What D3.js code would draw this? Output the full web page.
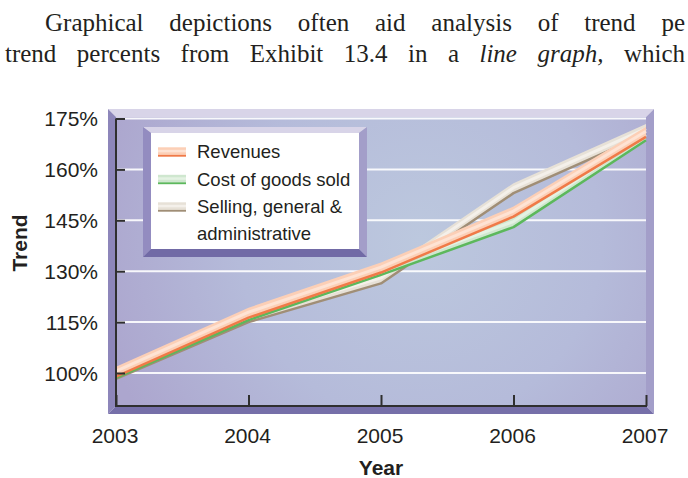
<!DOCTYPE html>
<html>
<head>
<meta charset="utf-8">
<script src="https://cdn.jsdelivr.net/npm/d3@7"></script>
<style>
  html, body { margin: 0; padding: 0; background: #ffffff; }
  svg { display: block; }
</style>
</head>
<body>
<svg id="chart" width="688" height="478"></svg>
<script>
// ---------- data ----------
const years = [2003, 2004, 2005, 2006, 2007];
const revenues = [98.9, 116.3, 129.6, 146.1, 169.6];
const costOfGoodsSold = [98.6, 115.6, 128.9, 143.0, 168.6];
const sellingGeneralAdmin = [98.3, 115.0, 126.4, 153.0, 170.4];
const yTicks = [100, 115, 130, 145, 160, 175];
const seriesNames = ["Revenues", "Cost of goods sold", "Selling, general &\nadministrative"];
const introLine1 = ["Graphical", "depictions", "often", "aid", "analysis", "of", "trend", "pe"];
const introLine2 = ["trend", "percents", "from", "Exhibit", "13.4", "in", "a", "line", "graph,", "which"];
const italicWords = ["line", "graph,"];

// ---------- setup ----------
const svg = d3.select("#chart");
const textColor = "#231f20";
const sans = "'Liberation Sans', Arial, Helvetica, sans-serif";
const serif = "'Liberation Serif', 'Times New Roman', Times, serif";

const pLeft = 116, pRight = 646, pBottom = 406, pTop = 117;
const x = d3.scaleLinear().domain([2003, 2007]).range([pLeft, pRight]);
const y = d3.scaleLinear().domain([100, 175]).range([373, 118.5]);

// ---------- intro paragraph (justified) ----------
function justifiedLine(words, x0, x1, baseline) {
  const t = svg.append("text")
    .attr("y", baseline)
    .attr("font-family", serif)
    .attr("font-size", 25)
    .attr("fill", textColor);
  const spans = words.map(w => t.append("tspan")
    .attr("font-family", serif)
    .attr("font-style", italicWords.includes(w) ? "italic" : "normal")
    .text(w));
  const widths = spans.map(s => s.node().getComputedTextLength());
  const total = d3.sum(widths);
  const gap = (x1 - x0 - total) / (words.length - 1);
  let cx = x0;
  spans.forEach((s, i) => { s.attr("x", cx); cx += widths[i] + gap; });
}
justifiedLine(introLine1, 45, 685, 31);
justifiedLine(introLine2, 5, 685, 62);

// ---------- 3D frame ----------
const defs = svg.append("defs");
const bg = defs.append("radialGradient").attr("id", "bgGrad")
  .attr("gradientUnits", "userSpaceOnUse")
  .attr("cx", 420).attr("cy", 240).attr("r", 330);
bg.append("stop").attr("offset", "0%").attr("stop-color", "#bcc8de");
bg.append("stop").attr("offset", "55%").attr("stop-color", "#b5bbda");
bg.append("stop").attr("offset", "100%").attr("stop-color", "#aca6ce");

const bv = 8;
const poly = pts => pts.map(p => p.join(",")).join(" ");
svg.append("polygon") // top wall
  .attr("points", poly([[pLeft - bv, pTop - bv], [pRight + bv, pTop - bv], [pRight, pTop], [pLeft, pTop]]))
  .attr("fill", "#d8d4e8");
svg.append("polygon") // left wall
  .attr("points", poly([[pLeft - bv, pTop - bv], [pLeft, pTop], [pLeft, pBottom], [pLeft - bv, pBottom + bv]]))
  .attr("fill", "#8d86ba");
svg.append("polygon") // right wall
  .attr("points", poly([[pRight, pTop], [pRight + bv, pTop - bv], [pRight + bv, pBottom + bv], [pRight, pBottom]]))
  .attr("fill", "#a39ec9");
svg.append("polygon") // floor
  .attr("points", poly([[pLeft - bv, pBottom + bv], [pLeft, pBottom], [pRight, pBottom], [pRight + bv, pBottom + bv]]))
  .attr("fill", "#766fa9");
svg.append("rect")
  .attr("x", pLeft).attr("y", pTop).attr("width", pRight - pLeft).attr("height", pBottom - pTop)
  .attr("fill", "url(#bgGrad)");

// gridlines
svg.append("g").selectAll("line").data(yTicks).join("line")
  .attr("x1", pLeft).attr("x2", pRight)
  .attr("y1", d => y(d)).attr("y2", d => y(d))
  .attr("stroke", "#ffffff").attr("stroke-opacity", 0.9).attr("stroke-width", 2);

// ---------- series ribbons ----------
const band = 10;
const series = [
  { name: seriesNames[2], values: sellingGeneralAdmin, fill: "#e7e1d7", hi: "#f4f0ea", line: "#a08e76" },
  { name: seriesNames[1], values: costOfGoodsSold, fill: "#cfe7cf", hi: "#e4f2e3", line: "#5cb85c" },
  { name: seriesNames[0], values: revenues, fill: "#fccfb6", hi: "#fee3d4", line: "#f07a48" }
];
const area = d3.area().x(d => x(d[0])).y0(d => y(d[1])).y1(d => y(d[1]) - band);
const lineGen = d3.line().x(d => x(d[0])).y(d => y(d[1]));
const midLine = d3.line().x(d => x(d[0])).y(d => y(d[1]) - band * 0.55);
series.forEach(s => {
  const pts = years.map((yr, i) => [yr, s.values[i]]);
  svg.append("path").attr("d", area(pts)).attr("fill", s.fill);
  svg.append("path").attr("d", midLine(pts)).attr("fill", "none")
    .attr("stroke", s.hi).attr("stroke-width", 3).attr("stroke-linejoin", "round");
  svg.append("path").attr("d", lineGen(pts)).attr("fill", "none")
    .attr("stroke", s.line).attr("stroke-width", 2.5).attr("stroke-linejoin", "round");
});

// ---------- axes ----------
const axisColor = "#2f2f2f";
const yAxis = d3.axisRight(y).tickValues(yTicks).tickSize(9).tickFormat("");
const gy = svg.append("g").attr("transform", `translate(${pLeft},0)`).call(yAxis);
gy.select(".domain").remove();
gy.selectAll(".tick line").attr("stroke", axisColor).attr("stroke-width", 2);
svg.append("line").attr("x1", pLeft).attr("x2", pLeft).attr("y1", y(175)).attr("y2", pBottom + 1)
  .attr("stroke", axisColor).attr("stroke-width", 2);

const xAxis = d3.axisTop(x).tickValues(years).tickSize(11).tickFormat("");
const gx = svg.append("g").attr("transform", `translate(0,${pBottom})`).call(xAxis);
gx.select(".domain").remove();
gx.selectAll(".tick line").attr("stroke", axisColor).attr("stroke-width", 2);
svg.append("line").attr("x1", pLeft - 1).attr("x2", pRight + 1).attr("y1", pBottom).attr("y2", pBottom)
  .attr("stroke", axisColor).attr("stroke-width", 2);

// tick labels
svg.append("g").selectAll("text").data(yTicks).join("text")
  .attr("x", 98).attr("y", d => y(d) + 7.5)
  .attr("text-anchor", "end")
  .attr("font-family", sans).attr("font-size", 21).attr("fill", textColor)
  .text(d => d + "%");
svg.append("g").selectAll("text").data(years).join("text")
  .attr("x", d => x(d) - 1).attr("y", 442.5)
  .attr("text-anchor", "middle")
  .attr("font-family", sans).attr("font-size", 21).attr("fill", textColor)
  .text(d => d);

// axis titles
svg.append("text")
  .attr("transform", "translate(27,243) rotate(-90)")
  .attr("text-anchor", "middle")
  .attr("font-family", sans).attr("font-size", 21).attr("font-weight", "bold").attr("fill", textColor)
  .text("Trend");
svg.append("text")
  .attr("x", 381).attr("y", 475)
  .attr("text-anchor", "middle")
  .attr("font-family", sans).attr("font-size", 21).attr("font-weight", "bold").attr("fill", textColor)
  .text("Year");

// ---------- legend ----------
const L = { x0: 143, y0: 127, x1: 367, y1: 257, bv: 8 };
svg.append("polygon").attr("points", poly([[L.x0, L.y0], [L.x1, L.y0], [L.x1 - L.bv, L.y0 + 6], [L.x0 + L.bv, L.y0 + 6]])).attr("fill", "#d8d4e8");
svg.append("polygon").attr("points", poly([[L.x0, L.y0], [L.x0 + L.bv, L.y0 + 6], [L.x0 + L.bv, L.y1 - L.bv], [L.x0, L.y1]])).attr("fill", "#938cc0");
svg.append("polygon").attr("points", poly([[L.x1, L.y0], [L.x1, L.y1], [L.x1 - L.bv, L.y1 - L.bv], [L.x1 - L.bv, L.y0 + 6]])).attr("fill", "#a39ec9");
svg.append("polygon").attr("points", poly([[L.x0, L.y1], [L.x0 + L.bv, L.y1 - L.bv], [L.x1 - L.bv, L.y1 - L.bv], [L.x1, L.y1]])).attr("fill", "#716aa6");
svg.append("rect").attr("x", L.x0 + L.bv).attr("y", L.y0 + 6)
  .attr("width", L.x1 - L.x0 - 2 * L.bv).attr("height", L.y1 - L.y0 - 6 - L.bv)
  .attr("fill", "#ffffff");

const legendItems = [series[2], series[1], series[0]];
const rowBase = [158.3, 185.8, 213.3];
legendItems.forEach((s, i) => {
  const cy = rowBase[i] - 6.5;
  svg.append("rect").attr("x", 158).attr("y", cy - 4.5).attr("width", 28).attr("height", 8.5).attr("fill", s.fill);
  svg.append("rect").attr("x", 158).attr("y", cy - 2).attr("width", 28).attr("height", 2.5).attr("fill", s.hi);
  svg.append("line").attr("x1", 158).attr("x2", 186).attr("y1", cy + 4).attr("y2", cy + 4)
    .attr("stroke", s.line).attr("stroke-width", 1.8);
  const t = svg.append("text").attr("font-family", sans).attr("font-size", 18.5).attr("fill", textColor);
  s.name.split("\n").forEach((ln, j) => {
    t.append("tspan").attr("x", 197).attr("y", rowBase[i] + j * 27).text(ln);
  });
});
</script>
</body>
</html>
